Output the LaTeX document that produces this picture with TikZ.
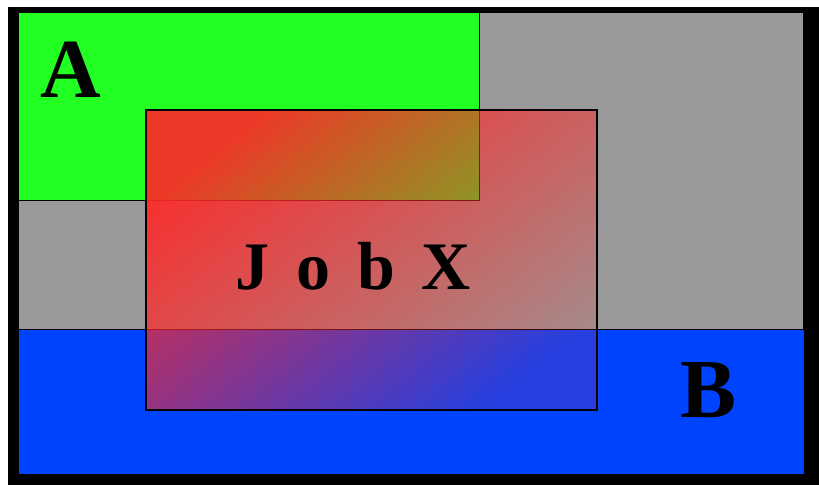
\documentclass[tikz,border=0pt]{standalone}
\usepackage{fontspec}
\setmainfont{Liberation Serif}
\usetikzlibrary{fadings,positioning}

\definecolor{areagreen}{RGB}{34,255,34}
\definecolor{areagray}{RGB}{153,153,153}
\definecolor{areablue}{RGB}{0,68,255}
\definecolor{jobred}{RGB}{255,40,40}
\tikzfading[name=jobfade,left color=transparent!8,right color=transparent!85]

\begin{document}
\begin{tikzpicture}[x=0.5pt,y=-0.5pt,
  area/.style={draw=black,line width=0.5pt},
  biglabel/.style={font=\bfseries\fontsize{42}{42}\selectfont,anchor=base,inner sep=0pt}]

\useasboundingbox (0,0) rectangle (819,485);
\fill[black] (8,7) rectangle (819,485);
\draw[area,fill=areagray] (18,13) rectangle (803,475);
\draw[area,fill=areagreen] (18,13) rectangle (479,201);
\draw[area,fill=areablue] (18,330) rectangle (804,475);

% job box
\fill[jobred,path fading=jobfade,fading angle=-40] (146,110) rectangle (597,410);
\draw[black,line width=1pt] (146,110) rectangle (597,410);

\node[biglabel] (labA) at (71,98) {A};
\node[biglabel] (labB) at (709,418) {B};
\node[font=\bfseries\fontsize{34}{34}\selectfont,anchor=base,inner sep=0pt] (labJob) at (353,290) {\spaceskip=13.5pt J o b X};
\end{tikzpicture}
\end{document}
